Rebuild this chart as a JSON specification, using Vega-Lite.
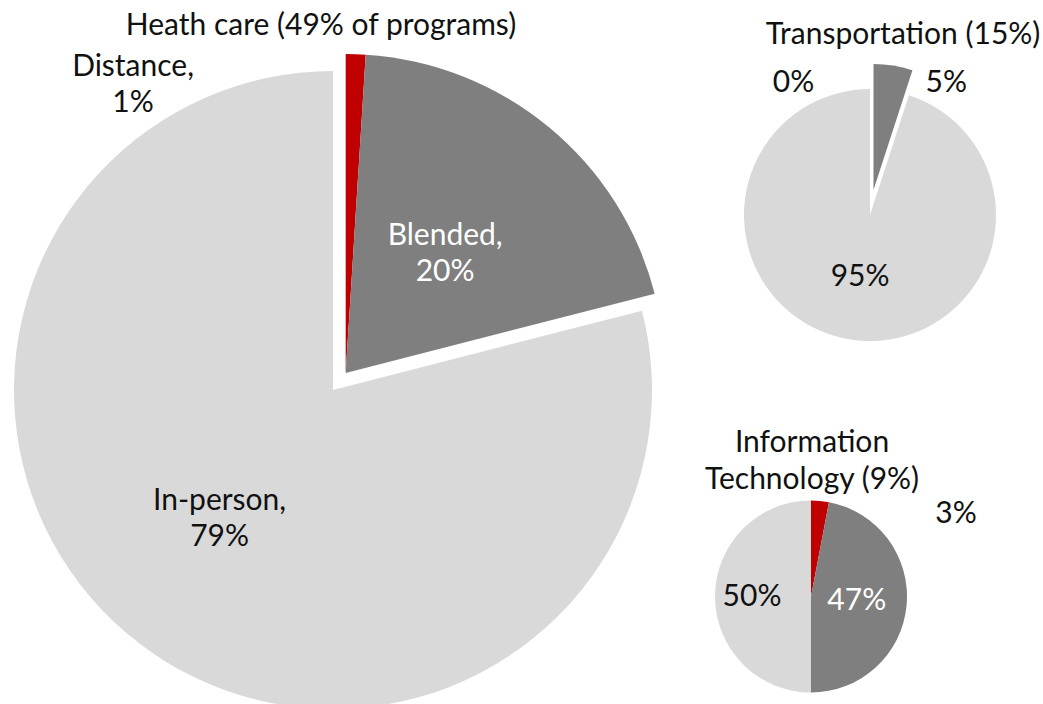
{
  "$schema": "https://vega.github.io/schema/vega-lite/v6.json",
  "background": "white",
  "padding": {"left": 0, "top": 11, "right": 0, "bottom": 0},
  "autosize": {"type": "pad"},
  "bounds": "flush",
  "spacing": 40,
  "config": {
    "view": {"stroke": null},
    "font": "Lato",
    "title": {"fontSize": 30, "fontWeight": "normal", "color": "#111111", "anchor": "middle", "frame": "group", "font": "Lato"},
    "text": {"fontSize": 30, "font": "Lato"}
  },
  "datasets": {
    "programs": [
      {"sector": "Health care", "mode": "Distance", "rank": 1, "pct": 1, "label": "Distance,\n1%"},
      {"sector": "Health care", "mode": "Blended", "rank": 2, "pct": 20, "label": "Blended,\n20%"},
      {"sector": "Health care", "mode": "In-person", "rank": 3, "pct": 79, "label": "In-person,\n79%"},
      {"sector": "Transportation", "mode": "Distance", "rank": 1, "pct": 0, "label": "0%"},
      {"sector": "Transportation", "mode": "Blended", "rank": 2, "pct": 5, "label": "5%"},
      {"sector": "Transportation", "mode": "In-person", "rank": 3, "pct": 95, "label": "95%"},
      {"sector": "Information Technology", "mode": "Distance", "rank": 1, "pct": 3, "label": "3%"},
      {"sector": "Information Technology", "mode": "Blended", "rank": 2, "pct": 47, "label": "47%"},
      {"sector": "Information Technology", "mode": "In-person", "rank": 3, "pct": 50, "label": "50%"}
    ]
  },
  "hconcat": [
    {
      "width": 666,
      "height": 636,
      "title": {"text": "Heath care (49% of programs)", "dx": -12, "offset": 11},
      "data": {"name": "programs"},
      "transform": [{"filter": "datum.sector == 'Health care'"}],
      "encoding": {
        "theta": {"field": "pct", "type": "quantitative", "stack": true},
        "order": {"field": "rank", "type": "quantitative"},
        "color": {"field": "mode", "type": "nominal", "legend": null,
          "scale": {"domain": ["Distance", "Blended", "In-person"], "range": ["#c00000", "#7f7f7f", "#d9d9d9"]}}
      },
      "layer": [
        {"mark": {"type": "arc", "radius": 319},
         "encoding": {"opacity": {"condition": {"test": "datum.mode == 'In-person'", "value": 1}, "value": 0}}},
        {"mark": {"type": "arc", "radius": 319, "xOffset": 12.7, "yOffset": -17},
         "encoding": {"opacity": {"condition": {"test": "datum.mode != 'In-person'", "value": 1}, "value": 0}}},
        {"mark": {"type": "text", "radius": 172, "dx": -8, "dy": -25, "lineBreak": "\n", "lineHeight": 36},
         "encoding": {"color": {"value": "#111111"},
           "text": {"condition": {"test": "datum.mode == 'In-person'", "field": "label"}, "value": ""}}},
        {"mark": {"type": "text", "radius": 156, "xOffset": 12.7, "yOffset": -17, "dy": -17, "lineBreak": "\n", "lineHeight": 36},
         "encoding": {"color": {"value": "#ffffff"},
           "text": {"condition": {"test": "datum.mode == 'Blended'", "field": "label"}, "value": ""}}},
        {"transform": [{"filter": "datum.mode == 'Distance'"}],
         "mark": {"type": "text", "radius": 330, "xOffset": 12.7, "yOffset": -17, "dx": -223, "dy": 24, "lineBreak": "\n", "lineHeight": 36},
         "encoding": {"color": {"value": "#111111"}, "text": {"field": "label"}}}
      ]
    },
    {
      "bounds": "flush",
      "spacing": 142,
      "vconcat": [
        {
          "width": 328,
          "height": 286,
          "title": {"text": "Transportation (15%)", "dx": 33, "offset": 14},
          "data": {"name": "programs"},
          "transform": [{"filter": "datum.sector == 'Transportation'"}],
          "encoding": {
            "theta": {"field": "pct", "type": "quantitative", "stack": true},
            "order": {"field": "rank", "type": "quantitative"},
            "color": {"field": "mode", "type": "nominal", "legend": null,
              "scale": {"domain": ["Distance", "Blended", "In-person"], "range": ["#c00000", "#7f7f7f", "#d9d9d9"]}}
          },
          "layer": [
            {"mark": {"type": "arc", "radius": 126},
             "encoding": {"opacity": {"condition": {"test": "datum.mode == 'In-person'", "value": 1}, "value": 0}}},
            {"mark": {"type": "arc", "radius": 126, "xOffset": 3.5, "yOffset": -25},
             "encoding": {"opacity": {"condition": {"test": "datum.mode != 'In-person'", "value": 1}, "value": 0}}},
            {"mark": {"type": "text", "radius": 63},
             "encoding": {"color": {"value": "#111111"},
               "text": {"condition": {"test": "datum.mode == 'In-person'", "field": "label"}, "value": ""}}},
            {"transform": [{"filter": "datum.mode == 'Blended'"}],
             "mark": {"type": "text", "radius": 126, "xOffset": 3.5, "yOffset": -25, "dx": 53, "dy": 17},
             "encoding": {"color": {"value": "#111111"}, "text": {"field": "label"}}},
            {"transform": [{"filter": "datum.mode == 'Distance'"}],
             "mark": {"type": "text", "radius": 126, "xOffset": 3.5, "yOffset": -25, "dx": -80, "dy": 19},
             "encoding": {"color": {"value": "#111111"}, "text": {"field": "label"}}}
          ]
        },
        {
          "width": 210,
          "height": 193,
          "title": {"text": ["Information", "Technology (9%)"], "dx": 1, "offset": 4, "lineHeight": 37},
          "data": {"name": "programs"},
          "transform": [{"filter": "datum.sector == 'Information Technology'"}],
          "encoding": {
            "theta": {"field": "pct", "type": "quantitative", "stack": true},
            "order": {"field": "rank", "type": "quantitative"},
            "color": {"field": "mode", "type": "nominal", "legend": null,
              "scale": {"domain": ["Distance", "Blended", "In-person"], "range": ["#c00000", "#7f7f7f", "#d9d9d9"]}}
          },
          "layer": [
            {"mark": {"type": "arc", "radius": 96}},
            {"mark": {"type": "text", "radius": 59},
             "encoding": {"color": {"value": "#111111"},
               "text": {"condition": {"test": "datum.mode == 'In-person'", "field": "label"}, "value": ""}}},
            {"mark": {"type": "text", "radius": 46},
             "encoding": {"color": {"value": "#ffffff"},
               "text": {"condition": {"test": "datum.mode == 'Blended'", "field": "label"}, "value": ""}}},
            {"transform": [{"filter": "datum.mode == 'Distance'"}],
             "mark": {"type": "text", "radius": 96, "dx": 136, "dy": 13},
             "encoding": {"color": {"value": "#111111"}, "text": {"field": "label"}}}
          ]
        }
      ]
    }
  ]
}
